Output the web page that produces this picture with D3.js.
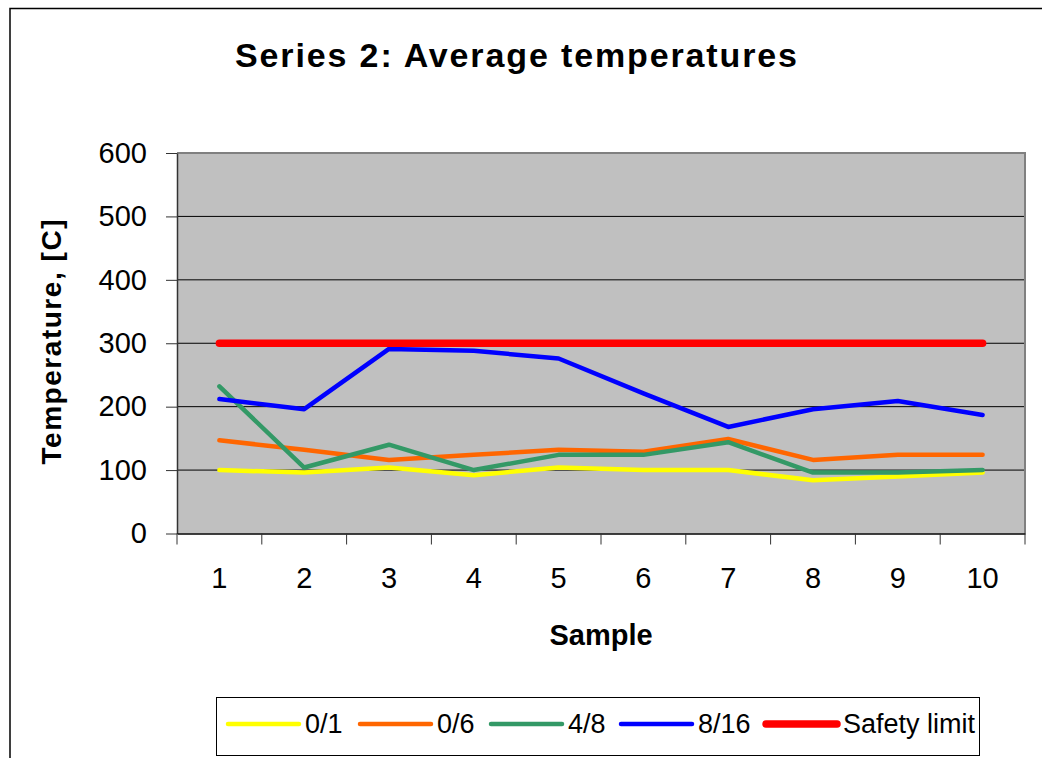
<!DOCTYPE html>
<html lang="en">
<head>
  <meta charset="UTF-8">
  <title>Series 2: Average temperatures</title>
  <script src="https://d3js.org/d3.v7.min.js"></script>
  <style>
    body {
      margin: 0;
      background: #fff;
      font-family: 'Liberation Sans', Arial, sans-serif;
    }
    svg { display: block; }
  </style>
</head>
<body>
  <svg width="1042" height="758"></svg>

  <script>
    const samples = ["1", "2", "3", "4", "5", "6", "7", "8", "9", "10"];
    const yTicks = [0, 100, 200, 300, 400, 500, 600];

    const s01 = [100, 96, 104, 92, 104, 100, 100, 84, 90, 96];
    const s06 = [147, 132, 116, 124, 132, 129, 149, 116, 124, 124];
    const s48 = [232, 104, 140, 100, 124, 124, 144, 96, 96, 100];
    const s816 = [212, 196, 291, 288, 276, 221, 168, 196, 209, 187];
    const safety = [300, 300, 300, 300, 300, 300, 300, 300, 300, 300];

    const seriesNames = ["0/1", "0/6", "4/8", "8/16", "Safety limit"];

    const series = [
      { name: seriesNames[0], values: s01, color: "#ffff00", width: 4.5 },
      { name: seriesNames[1], values: s06, color: "#ff6600", width: 4.5 },
      { name: seriesNames[2], values: s48, color: "#339966", width: 4.5 },
      { name: seriesNames[3], values: s816, color: "#0000ff", width: 4.5 },
      { name: seriesNames[4], values: safety, color: "#ff0000", width: 7.5 }
    ];

    const svg = d3.select("svg");
    const plot = { left: 177, right: 1025, top: 153, bottom: 533.5 };

    // outer chart frame (only top and left show)
    svg.append("path")
      .attr("d", "M10,800 L10,8.5 L1100,8.5")
      .attr("fill", "none")
      .attr("stroke", "#000")
      .attr("stroke-width", 1.5);

    const x = d3.scaleBand().domain(samples).range([plot.left, plot.right]).padding(0);
    const y = d3.scaleLinear().domain([0, 600]).range([plot.bottom, plot.top]);

    // plot area
    svg.append("rect")
      .attr("x", plot.left).attr("y", plot.top)
      .attr("width", plot.right - plot.left).attr("height", plot.bottom - plot.top)
      .attr("fill", "#c0c0c0");

    // gridlines
    svg.append("g").selectAll("line")
      .data(yTicks.filter(d => d > 0 && d < 600))
      .join("line")
      .attr("x1", plot.left).attr("x2", plot.right)
      .attr("y1", d => y(d)).attr("y2", d => y(d))
      .attr("stroke", "#000").attr("stroke-width", 1);

    // gray border on top / right
    svg.append("path")
      .attr("d", `M${plot.left},${plot.top} L${plot.right},${plot.top} L${plot.right},${plot.bottom}`)
      .attr("fill", "none").attr("stroke", "#808080").attr("stroke-width", 2);

    // y axis
    const yAxis = svg.append("g")
      .attr("transform", `translate(${plot.left},0)`)
      .call(d3.axisLeft(y).tickValues(yTicks).tickSize(11).tickPadding(19).tickSizeOuter(0));
    yAxis.select(".domain").attr("stroke", "#333").attr("stroke-width", 1.5);
    yAxis.selectAll(".tick line").attr("stroke", "#333");
    yAxis.selectAll("text")
      .attr("font-family", "'Liberation Sans', Arial, sans-serif")
      .attr("font-size", 29).attr("fill", "#000");

    // x axis
    const xAxis = svg.append("g")
      .attr("transform", `translate(0,${plot.bottom})`)
      .call(d3.axisBottom(x).tickSize(0).tickPadding(34).tickSizeOuter(0));
    xAxis.select(".domain").attr("stroke", "#000").attr("stroke-width", 1.5);
    xAxis.selectAll("text")
      .attr("font-family", "'Liberation Sans', Arial, sans-serif")
      .attr("font-size", 29).attr("fill", "#000");

    // category boundary ticks
    svg.append("g").selectAll("line")
      .data(samples.map(s => x(s)).concat([plot.right]))
      .join("line")
      .attr("x1", d => d).attr("x2", d => d)
      .attr("y1", plot.bottom).attr("y2", plot.bottom + 11)
      .attr("stroke", "#333").attr("stroke-width", 1);

    // series lines
    const line = d3.line()
      .x((d, i) => x(samples[i]) + x.bandwidth() / 2)
      .y(d => y(d));

    svg.append("g").selectAll("path")
      .data(series)
      .join("path")
      .attr("d", d => line(d.values))
      .attr("fill", "none")
      .attr("stroke", d => d.color)
      .attr("stroke-width", d => d.width)
      .attr("stroke-linecap", "round")
      .attr("stroke-linejoin", "round");

    // title
    svg.append("text")
      .attr("x", 516).attr("y", 67)
      .attr("text-anchor", "middle")
      .attr("font-size", 34).attr("font-weight", "bold")
      .attr("textLength", 562).attr("lengthAdjust", "spacing")
      .text("Series 2: Average temperatures");

    // axis titles
    svg.append("text")
      .attr("transform", "translate(61,342) rotate(-90)")
      .attr("text-anchor", "middle")
      .attr("font-size", 28).attr("font-weight", "bold")
      .attr("textLength", 245).attr("lengthAdjust", "spacing")
      .text("Temperature, [C]");

    svg.append("text")
      .attr("x", (plot.left + plot.right) / 2).attr("y", 645)
      .attr("text-anchor", "middle")
      .attr("font-size", 29).attr("font-weight", "bold")
      .text("Sample");

    // legend
    const legend = svg.append("g");
    legend.append("rect")
      .attr("x", 216.5).attr("y", 697.5)
      .attr("width", 763).attr("height", 58)
      .attr("fill", "#fff").attr("stroke", "#000").attr("stroke-width", 1);

    const legendX = [228, 360, 491, 621, 766];
    series.forEach((s, i) => {
      legend.append("line")
        .attr("x1", legendX[i]).attr("x2", legendX[i] + 71)
        .attr("y1", 724).attr("y2", 724)
        .attr("stroke", s.color).attr("stroke-width", s.width)
        .attr("stroke-linecap", "round");
      legend.append("text")
        .attr("x", legendX[i] + 77).attr("y", 733)
        .attr("font-size", 27)
        .text(s.name);
    });
  </script>
</body>
</html>
